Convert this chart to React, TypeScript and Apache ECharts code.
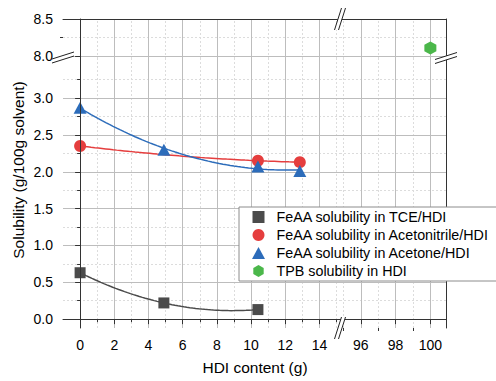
import { useEffect, useRef } from 'react';
import * as echarts from 'echarts';

const FONT = '"Liberation Sans", Arial, Helvetica, sans-serif';

// ---- data ----
const tceHDI = [0, 4.9, 10.4];
const tceSol = [0.63, 0.22, 0.13];
const acnHDI = [0, 10.4, 12.85];
const acnSol = [2.35, 2.15, 2.13];
const acetoneHDI = [0, 4.9, 10.4, 12.85];
const acetoneSol = [2.87, 2.3, 2.07, 2.01];
const tpbHDI = [100];
const tpbSol = [8.11];

const seriesNames = [
  'FeAA solubility in TCE/HDI',
  'FeAA solubility in Acetonitrile/HDI',
  'FeAA solubility in Acetone/HDI',
  'TPB solubility in HDI',
];

// ---- tick values ----
const xMajorLeft = [0, 2, 4, 6, 8, 10, 12, 14];
const xMinorLeft = [1, 3, 5, 7, 9, 11, 13, 15];
const xMajorRight = [96, 98, 100];
const xMinorRight = [95, 97, 99];
const yMajorLower = [0, 0.5, 1, 1.5, 2, 2.5, 3];
const yMinorLower = [0.25, 0.75, 1.25, 1.75, 2.25, 2.75, 3.25];
const yMajorUpper = [8, 8.5];
const yMinorUpper = [8.25];

const X_LEFT = [-1, 15.2];
const X_RIGHT = [94.8, 100.9];
const Y_LOWER = [-0.12, 3.53];
const Y_UPPER = [7.96, 8.5];

const C_GRAY = '#4b4b4b';
const C_RED = '#e53e3e';
const C_BLUE = '#2c6cba';
const C_GREEN = '#4bb74a';
const FRAME = '#333333';

const HEX = 'path://M0,-10L8.66,-5L8.66,5L0,10L-8.66,5L-8.66,-5Z';
const SQUARE = 'path://M0,0L10,0L10,10L0,10Z';
const TRI = 'path://M6.5,0L13,12L0,12Z';

// least-squares quadratic trend through the measured points
function quadFit(xs: number[], ys: number[]) {
  const s = [0, 0, 0, 0, 0];
  const t = [0, 0, 0];
  for (let i = 0; i < xs.length; i++) {
    for (let k = 0; k < 5; k++) s[k] += Math.pow(xs[i], k);
    for (let k = 0; k < 3; k++) t[k] += ys[i] * Math.pow(xs[i], k);
  }
  const M = [
    [s[0], s[1], s[2]],
    [s[1], s[2], s[3]],
    [s[2], s[3], s[4]],
  ];
  const det = (m: number[][]) =>
    m[0][0] * (m[1][1] * m[2][2] - m[1][2] * m[2][1]) -
    m[0][1] * (m[1][0] * m[2][2] - m[1][2] * m[2][0]) +
    m[0][2] * (m[1][0] * m[2][1] - m[1][1] * m[2][0]);
  const D = det(M);
  const coef = [0, 1, 2].map((c) => {
    const Mc = M.map((row, r) => row.map((v, j) => (j === c ? t[r] : v)));
    return det(Mc) / D;
  });
  return (x: number) => coef[0] + coef[1] * x + coef[2] * x * x;
}

function trend(xs: number[], ys: number[], n = 60) {
  const f = quadFit(xs, ys);
  const x0 = xs[0];
  const x1 = xs[xs.length - 1];
  const out: number[][] = [];
  for (let i = 0; i <= n; i++) {
    const x = x0 + ((x1 - x0) * i) / n;
    out.push([x, f(x)]);
  }
  return out;
}

const zip = (a: number[], b: number[]) => a.map((v, i) => [v, b[i]]);

const majorStyle = { color: '#bdbdbd', width: 1, type: 'solid' };
const minorStyle = { color: '#dcdcdc', width: 1, type: [2, 2] };

function gridSeries(xi: number, yi: number, xs: number[], ys: number[], style: any, z: number) {
  return {
    type: 'line',
    xAxisIndex: xi,
    yAxisIndex: yi,
    data: [],
    z,
    silent: true,
    markLine: {
      z,
      symbol: 'none',
      silent: true,
      animation: false,
      label: { show: false },
      emphasis: { disabled: true },
      lineStyle: style,
      data: [...xs.map((v) => ({ xAxis: v })), ...ys.map((v) => ({ yAxis: v }))],
    },
  };
}

const tickFont = { fontFamily: FONT, fontSize: 14, color: '#000' };
const frameLine = { show: true, lineStyle: { color: FRAME, width: 1 } };
const off = { show: false };

function frameAxis(gridIndex: number, range: number[], position: string) {
  return {
    type: 'value',
    gridIndex,
    min: range[0],
    max: range[1],
    position,
    axisLine: frameLine,
    axisTick: off,
    axisLabel: off,
    splitLine: off,
    z: 5,
  };
}

function mainAxis(gridIndex: number, range: number[], position: string, ticks: number[], fmt?: (v: number) => string) {
  return {
    type: 'value',
    gridIndex,
    min: range[0],
    max: range[1],
    position,
    axisLine: frameLine,
    axisTick: { show: true, customValues: ticks, length: 5, lineStyle: { color: FRAME, width: 1 } },
    axisLabel: { show: true, customValues: ticks, margin: 10, ...tickFont, formatter: fmt },
    splitLine: off,
    z: 5,
  };
}

function minorAxis(gridIndex: number, range: number[], position: string, ticks: number[]) {
  return {
    type: 'value',
    gridIndex,
    min: range[0],
    max: range[1],
    position,
    axisLine: off,
    axisTick: { show: true, customValues: ticks, length: 3, lineStyle: { color: FRAME, width: 1 } },
    axisLabel: off,
    splitLine: off,
    z: 5,
  };
}

function breakMark(cx: number, cy: number, horizontalAxis: boolean) {
  // two parallel slashes with a white gap
  const L = 11;
  const S = 3.5;
  const g = 2;
  let pts: number[][][];
  if (horizontalAxis) {
    pts = [-g, g].map((o) => [
      [cx + o - S, cy + L],
      [cx + o + S, cy - L],
    ]);
  } else {
    pts = [-g, g].map((o) => [
      [cx - L, cy + S + o],
      [cx + L, cy - S + o],
    ]);
  }
  return {
    type: 'group',
    z: 100,
    children: [
      {
        type: 'polygon',
        z: 100,
        shape: { points: [pts[0][0], pts[0][1], pts[1][1], pts[1][0]] },
        style: { fill: '#fff', stroke: 'none' },
      },
      ...pts.map((p) => ({
        type: 'line',
        z: 101,
        shape: { x1: p[0][0], y1: p[0][1], x2: p[1][0], y2: p[1][1] },
        style: { stroke: '#222', lineWidth: 1 },
      })),
    ],
  };
}

export default function App() {
  const ref = useRef<HTMLDivElement>(null);

  useEffect(() => {
    if (!ref.current) return;
    const chart = echarts.init(ref.current, undefined, { renderer: 'svg' });

    const GL = 63;
    const GB = 340;
    const GR = 446;
    const GT = 19;
    const GM = 59;
    const GBOT = 328;

    const fmt1 = (v: number) => v.toFixed(1);
    const fmt0 = (v: number) => String(Math.round(v));

    const option: any = {
      animation: false,
      grid: [
        { left: GL, top: GT, width: GB - GL, height: GM - GT, outerBoundsMode: 'none' },
        { left: GB, top: GT, width: GR - GB, height: GM - GT, outerBoundsMode: 'none' },
        { left: GL, top: GM, width: GB - GL, height: GBOT - GM, outerBoundsMode: 'none' },
        { left: GB, top: GM, width: GR - GB, height: GBOT - GM, outerBoundsMode: 'none' },
      ],
      xAxis: [
        frameAxis(0, X_LEFT, 'top'), // 0
        frameAxis(1, X_RIGHT, 'top'), // 1
        mainAxis(2, X_LEFT, 'bottom', xMajorLeft, fmt0), // 2
        minorAxis(2, X_LEFT, 'bottom', xMinorLeft), // 3
        mainAxis(3, X_RIGHT, 'bottom', xMajorRight, fmt0), // 4
        minorAxis(3, X_RIGHT, 'bottom', xMinorRight), // 5
      ],
      yAxis: [
        mainAxis(0, Y_UPPER, 'left', yMajorUpper, fmt1), // 0
        minorAxis(0, Y_UPPER, 'left', yMinorUpper), // 1
        frameAxis(1, Y_UPPER, 'right'), // 2
        mainAxis(2, Y_LOWER, 'left', yMajorLower, fmt1), // 3
        minorAxis(2, Y_LOWER, 'left', yMinorLower), // 4
        frameAxis(3, Y_LOWER, 'right'), // 5
      ],
      legend: {
        orient: 'vertical',
        left: 239,
        top: 207,
        padding: [3, 10, 3, 13],
        itemGap: 4,
        itemWidth: 26,
        itemHeight: 12,
        borderColor: '#8c8c8c',
        borderWidth: 1,
        borderRadius: 0,
        backgroundColor: '#ffffff',
        selectedMode: false,
        z: 20,
        textStyle: { fontFamily: FONT, fontSize: 14.3, color: '#000' },
        data: [
          { name: seriesNames[0], icon: SQUARE },
          { name: seriesNames[1], icon: 'circle' },
          { name: seriesNames[2], icon: TRI },
          { name: seriesNames[3], icon: HEX },
        ],
      },
      series: [
        // grid lines (minor dashed, then major solid)
        gridSeries(0, 0, xMinorLeft, yMinorUpper, minorStyle, 1),
        gridSeries(1, 2, xMinorRight, yMinorUpper, minorStyle, 1),
        gridSeries(2, 3, xMinorLeft, yMinorLower, minorStyle, 1),
        gridSeries(4, 5, xMinorRight, yMinorLower, minorStyle, 1),
        gridSeries(0, 0, xMajorLeft, [yMajorUpper[0]], majorStyle, 2),
        gridSeries(1, 2, xMajorRight, [yMajorUpper[0]], majorStyle, 2),
        gridSeries(2, 3, xMajorLeft, yMajorLower, majorStyle, 2),
        gridSeries(4, 5, xMajorRight, yMajorLower, majorStyle, 2),
        // trend curves
        {
          name: 'TCE trend', type: 'line', xAxisIndex: 2, yAxisIndex: 3, showSymbol: false, symbol: 'none', z: 3,
          lineStyle: { color: C_GRAY, width: 1.5 }, data: trend(tceHDI, tceSol),
        },
        {
          name: 'Acetonitrile trend', type: 'line', xAxisIndex: 2, yAxisIndex: 3, showSymbol: false, symbol: 'none', z: 3,
          lineStyle: { color: C_RED, width: 1.5 }, data: trend(acnHDI, acnSol),
        },
        {
          name: 'Acetone trend', type: 'line', xAxisIndex: 2, yAxisIndex: 3, showSymbol: false, symbol: 'none', z: 3,
          lineStyle: { color: C_BLUE, width: 1.5 }, data: trend(acetoneHDI, acetoneSol),
        },
        // markers
        {
          name: seriesNames[0], type: 'scatter', xAxisIndex: 2, yAxisIndex: 3, z: 4,
          symbol: 'rect', symbolSize: 11, itemStyle: { color: C_GRAY, opacity: 1 }, data: zip(tceHDI, tceSol),
        },
        {
          name: seriesNames[1], type: 'scatter', xAxisIndex: 2, yAxisIndex: 3, z: 4,
          symbol: 'circle', symbolSize: 12, itemStyle: { color: C_RED, opacity: 1 }, data: zip(acnHDI, acnSol),
        },
        {
          name: seriesNames[2], type: 'scatter', xAxisIndex: 2, yAxisIndex: 3, z: 4,
          symbol: 'triangle', symbolSize: [13, 12], itemStyle: { color: C_BLUE, opacity: 1 }, data: zip(acetoneHDI, acetoneSol),
        },
        {
          name: seriesNames[3], type: 'scatter', xAxisIndex: 1, yAxisIndex: 2, z: 4,
          symbol: HEX, symbolKeepAspect: false, symbolSize: [12, 13], itemStyle: { color: C_GREEN, opacity: 1 }, data: zip(tpbHDI, tpbSol),
        },
      ],
      graphic: [
        breakMark(GL, GM - 1.5, false),
        breakMark(GR, GM - 1, false),
        breakMark(GB, GT, true),
        breakMark(GB, GBOT, true),
        {
          type: 'text',
          x: (GL + GR) / 2 + 0.5,
          y: 367,
          z: 50,
          style: { text: 'HDI content (g)', fontFamily: FONT, fontSize: 15.5, fill: '#000', align: 'center', verticalAlign: 'middle' },
        },
        {
          type: 'text',
          x: 18,
          y: 170,
          rotation: Math.PI / 2,
          z: 50,
          style: { text: 'Solubility (g/100g solvent)', fontFamily: FONT, fontSize: 15.5, fill: '#000', align: 'center', verticalAlign: 'middle' },
        },
      ],
    };

    chart.setOption(option);
    return () => chart.dispose();
  }, []);

  return (
    <div
      ref={ref}
      style={{ position: 'fixed', left: 0, top: 0, width: 496, height: 381, background: '#fff' }}
    />
  );
}
